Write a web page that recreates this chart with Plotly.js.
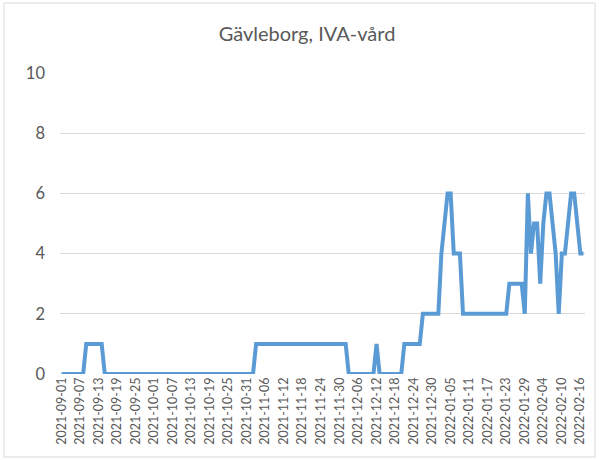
<!DOCTYPE html>
<html>
<head>
<meta charset="utf-8">
<script src="https://cdn.plot.ly/plotly-3.0.1.min.js"></script>
<style>html,body{margin:0;padding:0;background:#fff;}#chart{width:599px;height:460px;}</style>
</head>
<body>
<div id="chart"></div>
<script>
// Daily values, 2021-09-01 .. 2022-02-17
var valuesSep = [0,0,0,0,0,0,0,0,1,1,1,1,1,1,0,0,0,0,0,0,0,0,0,0,0,0,0,0,0,0];
var valuesOct = [0,0,0,0,0,0,0,0,0,0,0,0,0,0,0,0,0,0,0,0,0,0,0,0,0,0,0,0,0,0,0];
var valuesNov = [0,0,1,1,1,1,1,1,1,1,1,1,1,1,1,1,1,1,1,1,1,1,1,1,1,1,1,1,1,1];
var valuesDec = [1,1,0,0,0,0,0,0,0,0,0,1,0,0,0,0,0,0,0,0,1,1,1,1,1,1,2,2,2,2,2];
var valuesJan = [2,4,5,6,6,4,4,4,2,2,2,2,2,2,2,2,2,2,2,2,2,2,2,3,3,3,3,3,2,6,4];
var valuesFeb = [5,5,3,5,6,6,5,4,2,4,4,5,6,6,5,4,4];
var values = [].concat(valuesSep, valuesOct, valuesNov, valuesDec, valuesJan, valuesFeb);

var startDate = "2021-09-01";
var tickLabels = ["2021-09-01","2021-09-07","2021-09-13","2021-09-19","2021-09-25","2021-10-01",
  "2021-10-07","2021-10-13","2021-10-19","2021-10-25","2021-10-31","2021-11-06","2021-11-12",
  "2021-11-18","2021-11-24","2021-11-30","2021-12-06","2021-12-12","2021-12-18","2021-12-24",
  "2021-12-30","2022-01-05","2022-01-11","2022-01-17","2022-01-23","2022-01-29","2022-02-04",
  "2022-02-10","2022-02-16"];

var categories = [];
var t0 = Date.parse(startDate + "T00:00:00Z");
for (var i = 0; i < values.length; i++) {
  categories.push(new Date(t0 + i * 86400000).toISOString().slice(0, 10));
}

var FONT = "Lato, 'Open Sans', sans-serif";
var TXT = "#595959";

var trace = {
  type: "scatter", mode: "lines",
  x: categories, y: values,
  line: {color: "#5b9bd5", width: 4},
  hoverinfo: "skip"
};

var L = 60, R = 585, T = 73, B = 374;
var W = R - L, H = B - T;

var layout = {
  width: 599, height: 460,
  margin: {l: L, r: 599 - R, t: T, b: 460 - B, pad: 0},
  paper_bgcolor: "#ffffff", plot_bgcolor: "#ffffff",
  showlegend: false,
  title: {
    text: "Gävleborg, IVA-vård",
    font: {family: FONT, size: 20, color: TXT},
    xref: "container", yref: "container",
    x: 307 / 599, xanchor: "center",
    y: 1 - 34 / 460, yanchor: "middle"
  },
  xaxis: {
    type: "category",
    range: [-0.5, values.length - 0.5],
    tickmode: "array", tickvals: tickLabels, ticktext: tickLabels,
    tickangle: -90,
    tickfont: {family: FONT, size: 12.5, color: TXT},
    showgrid: false, zeroline: false, showline: false, ticks: "",
    automargin: false
  },
  yaxis: {
    range: [0, 10], dtick: 2, tick0: 0,
    tickfont: {family: FONT, size: 16.5, color: TXT},
    gridcolor: "#d9d9d9", gridwidth: 1,
    zeroline: false, showline: false, ticks: "",
    ticklabelstandoff: 14,
    automargin: false
  },
  shapes: [{
    type: "rect", xref: "paper", yref: "paper",
    x0: (4 - L) / W, x1: (595 - L) / W,
    y0: (B - 457) / H, y1: (B - 3) / H,
    line: {color: "#d9d9d9", width: 1}, fillcolor: "rgba(0,0,0,0)", layer: "below"
  }]
};

Plotly.newPlot("chart", [trace], layout, {staticPlot: true, displayModeBar: false});
</script>
</body>
</html>
